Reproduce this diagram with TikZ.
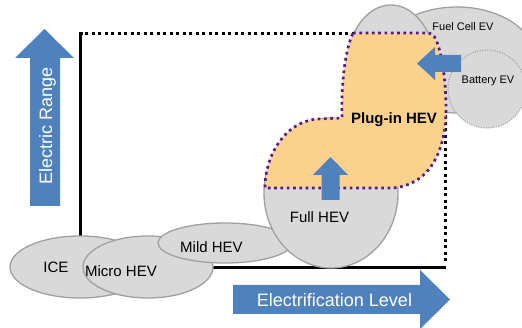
\documentclass[tikz,border=0pt]{standalone}
\usepackage{fontspec}
\setmainfont{Liberation Sans}
\definecolor{evgrey}{HTML}{D9D9D9}
\definecolor{evline}{HTML}{A0A0A0}
\definecolor{evblue}{HTML}{4F81BD}
\definecolor{evorange}{HTML}{FAD28E}
\definecolor{evpurple}{RGB}{80,25,150}
\tikzset{
 axisline/.style={line width=3pt, black, line join=miter},
 frameline/.style={line width=3pt, black, dash pattern=on 3pt off 3.5pt},
 vehicle/.style={fill=evgrey, draw=evline, line width=1.3pt},
 bevshape/.style={fill=evgrey, draw=evline, line width=1.2pt, dash pattern=on 1pt off 1.5pt},
 pluginarea/.style={fill=evorange, draw=evpurple, line width=2.7pt, dash pattern=on 2.7pt off 3.6pt},
 bigarrow/.style={fill=evblue, draw=none},
 lbl/.style={font=\fontsize{15}{18}\selectfont, anchor=base, inner sep=0pt},
 smalllbl/.style={font=\fontsize{11}{13}\selectfont, anchor=base, inner sep=0pt},
 boldlbl/.style={font=\fontsize{15}{18}\selectfont\bfseries, anchor=base, inner sep=0pt},
 arrowlbl/.style={font=\fontsize{18}{21}\selectfont, text=white, anchor=base, inner sep=0pt},
}
\begin{document}
\begin{tikzpicture}[x=1pt, y=-1pt]
\useasboundingbox (0,0) rectangle (522,328);
% axes
\draw[axisline] (83,34) -- (80,34) -- (80,268) -- (446,268);
\draw[frameline] (85,34) -- (445.5,34) -- (445.5,265);
% vehicles
\path[vehicle] (80,267) ellipse [x radius=70pt, y radius=31pt];
\path[vehicle] (148,267) ellipse [x radius=65pt, y radius=31pt];
\path[vehicle] (225,243) ellipse [x radius=67pt, y radius=20pt];
\path[vehicle] (331,193) ellipse [x radius=67pt, y radius=75pt];
\path[vehicle] (457,60) ellipse [x radius=79pt, y radius=53pt];
\path[vehicle] (391,70) ellipse [x radius=45pt, y radius=65pt];
\path[bevshape] (487,89) circle [radius=39pt];
% plug-in region
\path[pluginarea] (353,33) -- (428,33)
  .. controls (433,33) and (436,38) .. (438,45)
  .. controls (443,60) and (446,85) .. (446,110)
  .. controls (446,140) and (437,165) .. (420,178)
  .. controls (410,185) and (400,188) .. (390,188)
  -- (265,188)
  .. controls (265,155) and (285,122) .. (317,119)
  -- (342,118)
  .. controls (341,85) and (345,50) .. (353,33) -- cycle;
% arrows
\path[bigarrow] (30,206) -- (30,58) -- (15,58) -- (44.5,29) -- (74,58) -- (60,58) -- (60,206) -- cycle;
\path[bigarrow] (233,285) -- (420,285) -- (420,270) -- (450,299.5) -- (420,329) -- (420,314) -- (233,314) -- cycle;
\path[bigarrow] (321.5,200) -- (321.5,175) -- (313,175) -- (330.5,157) -- (348,175) -- (339.5,175) -- (339.5,200) -- cycle;
\path[bigarrow] (461,55) -- (435,55) -- (435,47) -- (417,63.5) -- (435,80) -- (435,72) -- (461,72) -- cycle;
% labels
\node[arrowlbl, rotate=90] (range) at (52,126) {Electric Range};
\node[arrowlbl] (level) at (334.5,306.5) {Electrification Level};
\node[lbl] (ice) at (56,273) {ICE};
\node[lbl] (micro) at (121,277) {Micro HEV};
\node[lbl] (mild) at (211.5,253) {Mild HEV};
\node[lbl] (full) at (319.5,223) {Full HEV};
\node[boldlbl] (plugin) at (394,124) {Plug-in HEV};
\node[smalllbl] (fcev) at (463,30.7) {Fuel Cell EV};
\node[smalllbl] (bev) at (488,84) {Battery EV};
\end{tikzpicture}
\end{document}
